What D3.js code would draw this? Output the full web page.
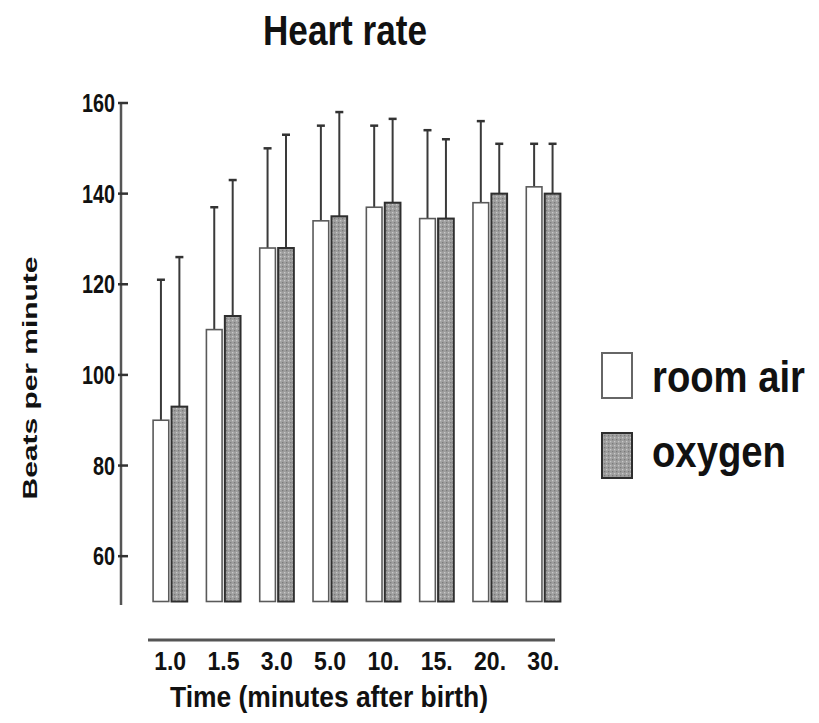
<!DOCTYPE html>
<html>
<head>
<meta charset="utf-8">
<script src="https://cdn.jsdelivr.net/npm/d3@7"></script>
<style>
  body { margin: 0; background: #fff; }
  svg { display: block; }
  text { font-family: "Liberation Sans", Arial, sans-serif; font-weight: bold; fill: #111; }
</style>
</head>
<body>
<svg id="chart" width="819" height="723"></svg>
<script>
// data
const times = ["1.0", "1.5", "3.0", "5.0", "10.", "15.", "20.", "30."];
const groups = ["room air", "oxygen"];
const roomAir = [90, 110, 128, 134, 137, 134.5, 138, 141.5];
const oxygen = [93, 113, 128, 135, 138, 134.5, 140, 140];
const roomAirSD = [31, 27, 22, 21, 18, 19.5, 18, 9.5];
const oxygenSD = [33, 30, 25, 23, 18.5, 17.5, 11, 11];
const yTicks = [60, 80, 100, 120, 140, 160];

const svg = d3.select("#chart");

// pattern for the stippled oxygen bars
const defs = svg.append("defs");
const pat = defs.append("pattern")
    .attr("id", "stipple")
    .attr("width", 4).attr("height", 4)
    .attr("patternUnits", "userSpaceOnUse");
pat.append("rect").attr("width", 4).attr("height", 4).attr("fill", "#9e9e9e");
pat.append("rect").attr("x", 0).attr("y", 0).attr("width", 1.3).attr("height", 1.3).attr("fill", "#c9c9c9");
pat.append("rect").attr("x", 2).attr("y", 2).attr("width", 1.3).attr("height", 1.3).attr("fill", "#7a7a7a");

const x = d3.scaleBand()
    .domain(times)
    .range([143.5, 570])
    .paddingInner(0.36)
    .paddingOuter(0.18);

const xs = d3.scaleBand()
    .domain(groups)
    .range([0, x.bandwidth()])
    .paddingInner(0.15);

const y = d3.scaleLinear()
    .domain([50, 160])
    .range([601.5, 103]);

let rows = times.map((t, i) => [
    {time: t, group: "room air", mean: roomAir[i], sd: roomAirSD[i]},
    {time: t, group: "oxygen", mean: oxygen[i], sd: oxygenSD[i]}
]).flat();

// error bars (drawn first so the bars sit over them)
const err = svg.append("g");
err.selectAll("line.whisker")
    .data(rows)
    .join("line")
    .attr("class", "whisker")
    .attr("x1", d => x(d.time) + xs(d.group) + xs.bandwidth() / 2)
    .attr("x2", d => x(d.time) + xs(d.group) + xs.bandwidth() / 2)
    .attr("y1", d => y(d.mean))
    .attr("y2", d => y(d.mean + d.sd))
    .attr("stroke", "#3a3a3a")
    .attr("stroke-width", 2);
err.selectAll("line.cap")
    .data(rows)
    .join("line")
    .attr("class", "cap")
    .attr("x1", d => x(d.time) + xs(d.group) + xs.bandwidth() / 2 - 4)
    .attr("x2", d => x(d.time) + xs(d.group) + xs.bandwidth() / 2 + 4)
    .attr("y1", d => y(d.mean + d.sd))
    .attr("y2", d => y(d.mean + d.sd))
    .attr("stroke", "#333")
    .attr("stroke-width", 2.5);

// bars
svg.append("g").selectAll("rect")
    .data(rows)
    .join("rect")
    .attr("x", d => x(d.time) + xs(d.group))
    .attr("y", d => y(d.mean))
    .attr("width", xs.bandwidth())
    .attr("height", d => y(50) - y(d.mean))
    .attr("fill", d => d.group == "oxygen" ? "url(#stipple)" : "#fff")
    .attr("stroke", d => d.group == "oxygen" ? "#2e2e2e" : "#5a5a5a")
    .attr("stroke-width", d => d.group == "oxygen" ? 2 : 1.6);

// y axis
const yAxis = svg.append("g");
yAxis.append("line")
    .attr("x1", 121).attr("x2", 121)
    .attr("y1", y(160)).attr("y2", 605)
    .attr("stroke", "#555").attr("stroke-width", 2.5);
yAxis.selectAll("line.tick")
    .data(yTicks)
    .join("line")
    .attr("class", "tick")
    .attr("x1", 118).attr("x2", 128)
    .attr("y1", d => y(d)).attr("y2", d => y(d))
    .attr("stroke", "#333").attr("stroke-width", 2.5);
yAxis.selectAll("text")
    .data(yTicks)
    .join("text")
    .attr("x", 115)
    .attr("y", d => y(d) + 9)
    .attr("text-anchor", "end")
    .attr("font-size", 25)
    .attr("textLength", d => String(d).length * 11)
    .attr("lengthAdjust", "spacingAndGlyphs")
    .text(d => d);

// x axis
const xAxis = svg.append("g");
xAxis.append("line")
    .attr("x1", 148).attr("x2", 555)
    .attr("y1", 640).attr("y2", 640)
    .attr("stroke", "#555").attr("stroke-width", 3);
xAxis.selectAll("text")
    .data(times)
    .join("text")
    .attr("x", d => x(d) + x.bandwidth() / 2)
    .attr("y", 670)
    .attr("text-anchor", "middle")
    .attr("font-size", 25)
    .attr("textLength", 32)
    .attr("lengthAdjust", "spacingAndGlyphs")
    .text(d => d);

// titles
svg.append("text")
    .attr("x", 345).attr("y", 45)
    .attr("text-anchor", "middle")
    .attr("font-size", 43)
    .attr("textLength", 164)
    .attr("lengthAdjust", "spacingAndGlyphs")
    .text("Heart rate");

svg.append("text")
    .attr("x", 329).attr("y", 707)
    .attr("text-anchor", "middle")
    .attr("font-size", 29)
    .attr("textLength", 318)
    .attr("lengthAdjust", "spacingAndGlyphs")
    .text("Time (minutes after birth)");

svg.append("text")
    .attr("transform", "translate(37,378) rotate(-90)")
    .attr("text-anchor", "middle")
    .attr("font-size", 20)
    .attr("textLength", 243)
    .attr("lengthAdjust", "spacingAndGlyphs")
    .text("Beats per minute");

// legend
const legendY = [353, 433];
const legend = svg.append("g").selectAll("g")
    .data(groups)
    .join("g")
    .attr("transform", (d, i) => `translate(602,${legendY[i]})`);
legend.append("rect")
    .attr("width", 30).attr("height", 45)
    .attr("fill", d => d == "oxygen" ? "url(#stipple)" : "#fff")
    .attr("stroke", d => d == "oxygen" ? "#2e2e2e" : "#666")
    .attr("stroke-width", 2);
legend.append("text")
    .attr("transform", (d, i) => `translate(50,${i == 0 ? 39 : 34}) scale(0.85,1)`)
    .attr("font-size", 45)
    .text(d => d);
</script>
</body>
</html>
